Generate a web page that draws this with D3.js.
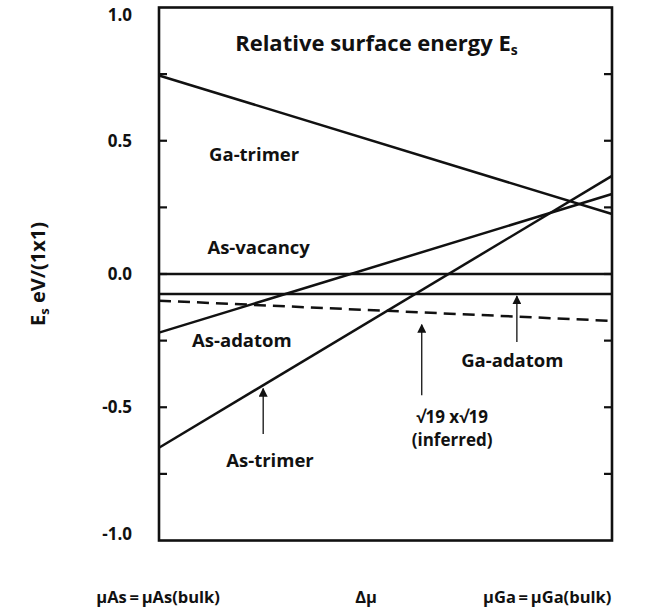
<!DOCTYPE html>
<html>
<head>
<meta charset="utf-8">
<script src="https://d3js.org/d3.v7.min.js"></script>
<style>
  body { margin: 0; background: #fff; }
  text { font-family: 'Open Sans', 'DejaVu Sans', sans-serif; font-weight: bold; fill: #111; }
</style>
</head>
<body>
<svg id="chart"></svg>
<script>
// end points of each surface line, left (As rich) -> right (Ga rich)
var xEnds = [0, 1];
var gaTrimer = [0.745, 0.225];
var asVacancy = [0.0, 0.0];
var gaAdatom = [-0.075, -0.075];
var sqrt19 = [-0.10, -0.176];
var asAdatom = [-0.22, 0.30];
var asTrimer = [-0.652, 0.368];

var yTicks = [-1.0, -0.75, -0.5, -0.25, 0.0, 0.25, 0.5, 0.75, 1.0];
var yLabels = [-1.0, -0.5, 0.0, 0.5, 1.0];

// annotation labels [text lines, x, y]
var labels = [
  [["Ga-trimer"], 0.21, 0.447],
  [["As-vacancy"], 0.22, 0.10],
  [["As-adatom"], 0.183, -0.251],
  [["As-trimer"], 0.245, -0.70],
  [["\u221A19 x\u221A19", "(inferred)"], 0.647, -0.535],
  [["Ga-adatom"], 0.78, -0.323]
];
// arrows [x, yTail, yTip]
var arrows = [
  [0.23, -0.60, -0.43],
  [0.58, -0.455, -0.19],
  [0.79, -0.255, -0.083]
];
// bottom labels [text, centre x]
var bottomLabels = [
  ["\u03BCAs\u2009=\u2009\u03BCAs(bulk)", -0.002],
  ["\u0394\u03BC", 0.457],
  ["\u03BCGa\u2009=\u2009\u03BCGa(bulk)", 0.857]
];

var width = 666, height = 611;
var margin = {top: 7.5, right: 54, bottom: 70.5, left: 159};

var svg = d3.select('#chart')
  .attr('width', width)
  .attr('height', height);

var x = d3.scaleLinear().domain([0, 1]).range([margin.left, width - margin.right]);
var y = d3.scaleLinear().domain([-1, 1]).range([height - margin.bottom, margin.top]);

// inward ticks left and right
svg.selectAll('.tickL')
  .data(yTicks.slice(1, -1))
  .enter().append('line')
  .attr('x1', x(0)).attr('x2', x(0) + 8)
  .attr('y1', function(d) { return y(d); })
  .attr('y2', function(d) { return y(d); })
  .attr('stroke', '#111').attr('stroke-width', 2.2);
svg.selectAll('.tickR')
  .data(yTicks.slice(1, -1))
  .enter().append('line')
  .attr('x1', x(1)).attr('x2', x(1) - 8)
  .attr('y1', function(d) { return y(d); })
  .attr('y2', function(d) { return y(d); })
  .attr('stroke', '#111').attr('stroke-width', 2.2);

svg.selectAll('.ylab')
  .data(yLabels)
  .enter().append('text')
  .attr('x', 132)
  .attr('y', function(d) {
    var p = y(d);
    if (d == 1) p += 8;
    if (d == -1) p -= 6;
    return p;
  })
  .attr('dy', '0.35em')
  .attr('text-anchor', 'end')
  .style('font-size', '17px')
  .text(function(d) { return d3.format('.1f')(d).replace('\u2212', '-'); });

// surface lines
var series = [
  {v: gaTrimer}, {v: asVacancy}, {v: gaAdatom},
  {v: sqrt19, dash: '12,7'}, {v: asAdatom}, {v: asTrimer}
];
var line = d3.line()
  .x(function(d, i) { return x(xEnds[i]); })
  .y(function(d) { return y(d); });

svg.selectAll('.series')
  .data(series)
  .enter().append('path')
  .attr('d', function(d) { return line(d.v); })
  .attr('fill', 'none')
  .attr('stroke', '#111')
  .attr('stroke-width', 2.5)
  .attr('stroke-dasharray', function(d) { return d.dash || null; });

// frame
svg.append('rect')
  .attr('x', x(0)).attr('y', y(1))
  .attr('width', x(1) - x(0)).attr('height', y(-1) - y(1))
  .attr('fill', 'none').attr('stroke', '#111').attr('stroke-width', 2.6);

// arrows
svg.append('defs').append('marker')
  .attr('id', 'head')
  .attr('viewBox', '0 0 10 10')
  .attr('refX', 9).attr('refY', 5)
  .attr('markerWidth', 9).attr('markerHeight', 9)
  .attr('markerUnits', 'userSpaceOnUse')
  .attr('orient', 'auto')
  .append('path').attr('d', 'M0,0L10,5L0,10z').attr('fill', '#111');

svg.selectAll('.arrow')
  .data(arrows)
  .enter().append('line')
  .attr('x1', function(d) { return x(d[0]); })
  .attr('x2', function(d) { return x(d[0]); })
  .attr('y1', function(d) { return y(d[1]); })
  .attr('y2', function(d) { return y(d[2]); })
  .attr('stroke', '#111').attr('stroke-width', 1.3)
  .attr('marker-end', 'url(#head)');

var labs = svg.selectAll('.lab')
  .data(labels)
  .enter().append('text')
  .attr('y', function(d) { return y(d[2]); })
  .attr('text-anchor', 'middle')
  .style('font-size', function(d) { return d[0].length > 1 ? '17px' : '18.5px'; });
labs.selectAll('tspan')
  .data(function(d) { return d[0].map(function(t) { return [t, d[1]]; }); })
  .enter().append('tspan')
  .attr('x', function(d) { return x(d[1]); })
  .attr('dy', function(d, i) { return i == 0 ? '0.35em' : '23'; })
  .text(function(d) { return d[0]; });

// title
var title = svg.append('text')
  .attr('x', x(0.48)).attr('y', y(0.865))
  .attr('dy', '0.35em')
  .attr('text-anchor', 'middle')
  .style('font-size', '22px');
title.append('tspan').text('Relative surface energy E');
title.append('tspan').attr('dy', '4').style('font-size', '14px').text('s');

// y axis title
var yt = svg.append('text')
  .attr('transform', 'translate(45,' + y(0) + ') rotate(-90)')
  .attr('text-anchor', 'middle')
  .style('font-size', '20px');
yt.append('tspan').text('E');
yt.append('tspan').attr('dy', '4').style('font-size', '13px').text('s');
yt.append('tspan').attr('dy', '-4').text(' eV/(1x1)');

svg.selectAll('.blab')
  .data(bottomLabels)
  .enter().append('text')
  .attr('x', function(d) { return x(d[1]); })
  .attr('y', 597)
  .attr('dy', '0.35em')
  .attr('text-anchor', 'middle')
  .style('font-size', '16.5px')
  .text(function(d) { return d[0]; });
</script>
</body>
</html>
